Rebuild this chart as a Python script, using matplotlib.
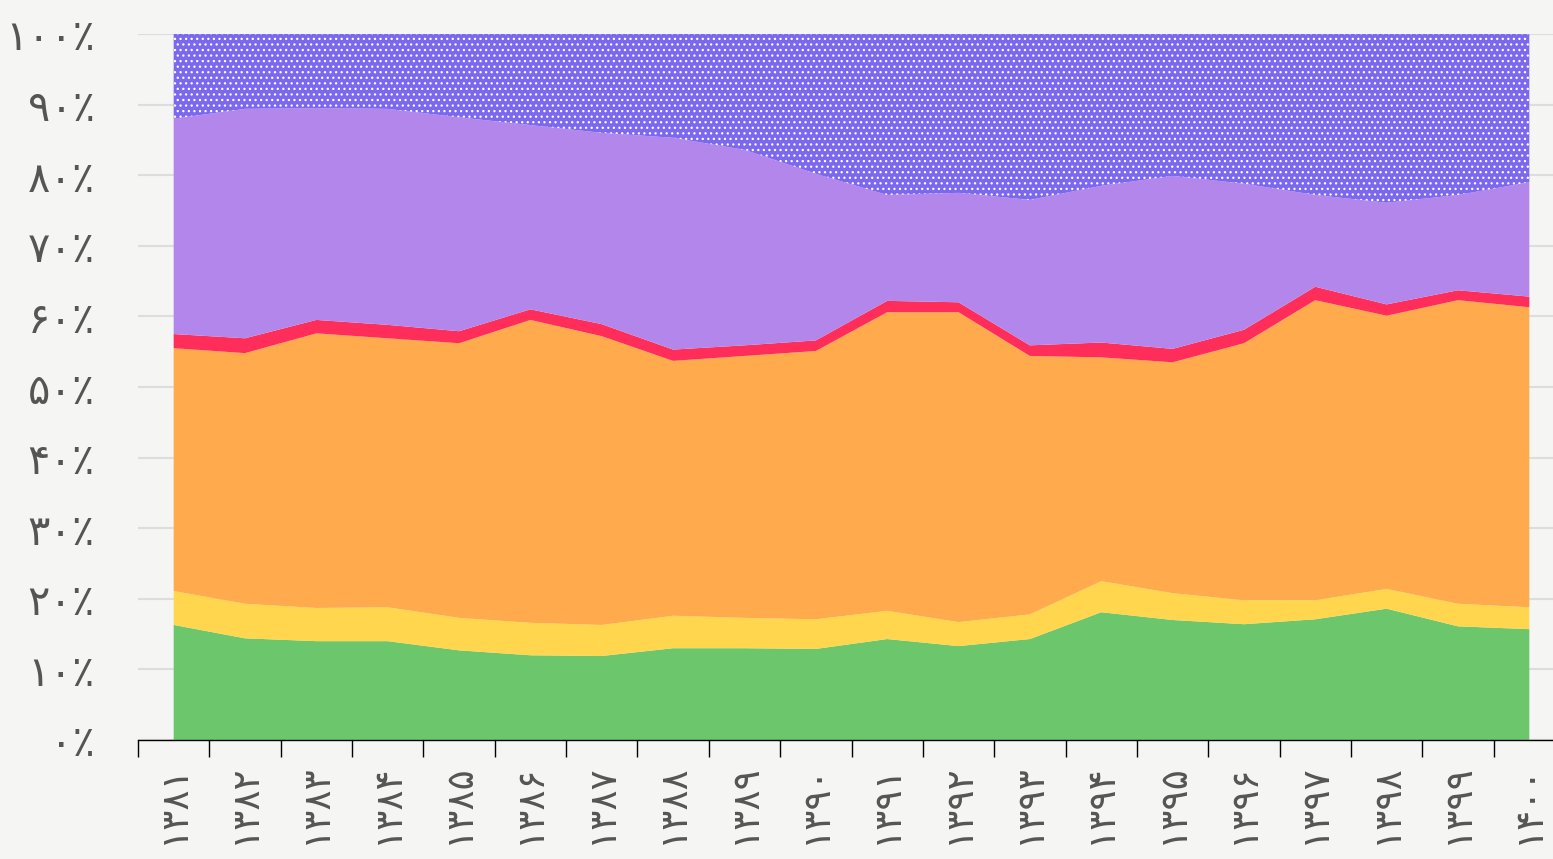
import matplotlib
matplotlib.use("Agg")
import matplotlib.pyplot as plt
import numpy as np

# years 1381 - 1400 (solar hijri)
years = list(range(1381, 1401))

# shares (percent) from bottom to top
green = [16.3, 14.4, 14.0, 14.0, 12.7, 12.0, 11.9, 13.0, 13.0, 12.9,
         14.3, 13.3, 14.3, 18.1, 17.0, 16.4, 17.1, 18.6, 16.1, 15.7]
yellow = [4.8, 4.9, 4.7, 4.8, 4.6, 4.6, 4.4, 4.6, 4.3, 4.2,
          4.0, 3.4, 3.5, 4.4, 3.8, 3.4, 2.7, 2.8, 3.2, 3.1]
orange = [34.4, 35.5, 38.9, 38.1, 38.9, 42.9, 40.9, 36.1, 37.1, 38.0,
          42.3, 43.9, 36.6, 31.7, 32.7, 36.4, 42.5, 38.7, 43.0, 42.5]
red = [2.0, 2.1, 1.9, 1.9, 1.7, 1.5, 1.7, 1.6, 1.5, 1.5,
       1.6, 1.4, 1.5, 2.1, 1.9, 1.9, 1.9, 1.6, 1.4, 1.5]
lilac = [30.5, 32.5, 30.0, 30.6, 30.3, 26.1, 27.1, 30.0, 27.7, 23.6,
         15.0, 15.5, 20.6, 22.2, 24.5, 20.7, 13.0, 14.4, 13.5, 16.2]
violet = [12.0, 10.6, 10.5, 10.6, 11.8, 12.9, 14.0, 14.7, 16.4, 19.8,
          22.8, 22.5, 23.5, 21.5, 20.1, 21.2, 22.8, 23.9, 22.8, 21.0]

colors = ["#6cc76c", "#ffd64d", "#ffaa4d", "#ff2d5a", "#b386eb", "#7b68ee"]

fa_digits = str.maketrans("0123456789", "۰۱۲۳۴۵۶۷۸۹")
def fa(n):
    return str(n).translate(fa_digits)

data = np.array([green, yellow, orange, red, lilac, violet])
data = data / data.sum(axis=0) * 100

plt.rcParams['font.family'] = ['DejaVu Sans']
plt.rcParams['hatch.linewidth'] = 0.9

fig = plt.figure(figsize=(15.53, 8.59), dpi=100, facecolor="#f5f5f3")
W, H = 1553, 859
ax = fig.add_axes([138 / W, 1 - 740 / H, (1565 - 138) / W, (740 - 34) / H])
ax.set_facecolor("#f5f5f3")

x = np.arange(len(years))
polys = ax.stackplot(x, data, colors=colors, linewidth=0, zorder=2)
polys[-1].set_hatch("...")
polys[-1].set_edgecolor("white")
polys[-1].set_linewidth(0)

ax.set_xlim(-0.5, len(years) - 0.5)
ax.set_ylim(0, 100)

yt = list(range(0, 101, 10))
ax.set_yticks(yt)
ax.set_yticklabels([fa(v) + "٪" for v in yt])
ax.tick_params(axis="y", length=0, pad=31, labelsize=30, labelcolor="#555555")
ax.yaxis.grid(True, color="#dddddd", linewidth=1.5, zorder=0)
ax.set_axisbelow(True)

ax.set_xticks(x - 0.5)
ax.set_xticklabels([])
ax.set_xticks(x, minor=True)
ax.set_xticklabels([fa(y) for y in years], minor=True, rotation=90)
ax.tick_params(axis="x", which="major", length=12, width=1, color="black")
ax.tick_params(axis="x", which="minor", length=0, pad=17, labelsize=27,
               labelcolor="#555555")

for s in ["top", "right", "left"]:
    ax.spines[s].set_visible(False)
ax.spines["bottom"].set_color("black")
ax.spines["bottom"].set_linewidth(1)

fig.savefig("out.png", dpi=100, facecolor=fig.get_facecolor())
